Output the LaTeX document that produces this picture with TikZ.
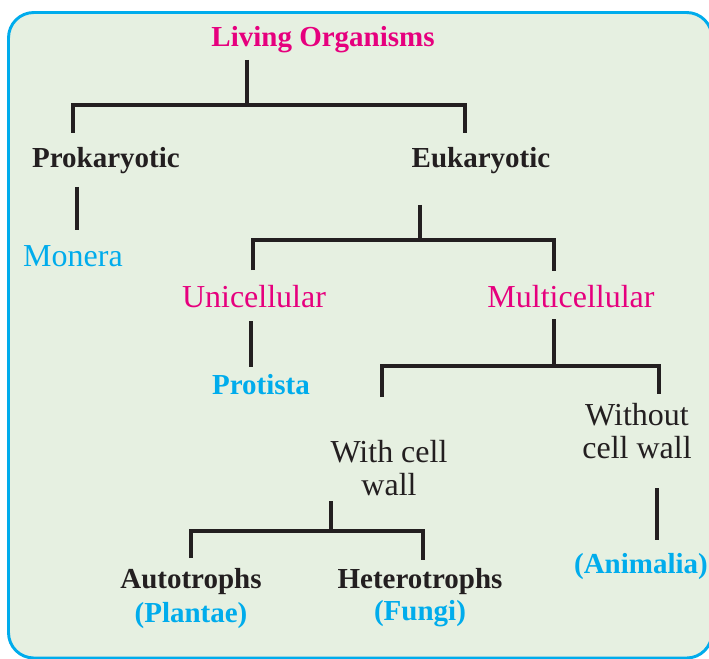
\documentclass[tikz,border=0pt]{standalone}
\usepackage{fontspec}
\setmainfont{Liberation Serif}
\usepackage{xcolor}
\usepackage{tikz}
\usetikzlibrary{positioning}

\definecolor{orgpink}{RGB}{230,0,126}
\definecolor{orgcyan}{RGB}{0,172,236}
\definecolor{orgink}{RGB}{35,31,32}
\definecolor{orgbg}{RGB}{230,240,225}

\begin{document}
\begin{tikzpicture}[x=0.75pt, y=-0.75pt,
        frame/.style={draw=orgcyan, fill=orgbg, line width=2.2pt, rounded corners=19pt},
        boldtxt/.style={font=\fontsize{21.75}{24}\selectfont\bfseries, inner sep=0pt, text height=0.68em, text depth=0.22em},
        regtxt/.style={font=\fontsize{24}{24.75}\selectfont, inner sep=0pt, text height=0.68em, text depth=0.22em},
        twoline/.style={font=\fontsize{24}{24.75}\selectfont, inner sep=0pt, align=center, text=orgink},
        link/.style={draw=orgink, line width=2.3pt}
    ]
        \useasboundingbox (0,0) rectangle (709,659);
        \path[frame] (8.5,12.5) rectangle (712,658);

        % Nodes
        \node[boldtxt, text=orgpink] (living) at (323,43) {Living Organisms};
        \node[boldtxt, text=orgink] (prok) at (106,164) {Prokaryotic};
        \node[boldtxt, text=orgink] (euk) at (481,164) {Eukaryotic};
        \node[regtxt, text=orgcyan] (monera) at (73,263) {Monera};
        \node[regtxt, text=orgpink] (uni) at (254,304) {Unicellular};
        \node[regtxt, text=orgpink] (multi) at (571,304) {Multicellular};
        \node[boldtxt, text=orgcyan] (protista) at (261,391) {Protista};
        \node[twoline] (withwall) at (389,468) {With cell\\wall};
        \node[twoline] (nowall) at (637,431) {Without\\cell wall};
        \node[boldtxt, text=orgink] (auto) at (191,585) {Autotrophs};
        \node[boldtxt, text=orgcyan] (plantae) at (191,619) {(Plantae)};
        \node[boldtxt, text=orgink] (hetero) at (420,585) {Heterotrophs};
        \node[boldtxt, text=orgcyan] (fungi) at (420,617) {(Fungi)};
        \node[boldtxt, text=orgcyan] (animalia) at (641,570) {(Animalia)};

        % Joints
        \coordinate (living-s) at (247,60);
        \coordinate (living-j) at (247,105);
        \coordinate (prok-n) at (73,133);
        \coordinate (euk-n) at (465,133);
        \coordinate (prok-s) at (77,187);
        \coordinate (monera-n) at (77,230);
        \coordinate (euk-s) at (420,205);
        \coordinate (euk-j) at (420,240);
        \coordinate (uni-n) at (253,270);
        \coordinate (multi-n) at (554,271);
        \coordinate (uni-s) at (251,321);
        \coordinate (protista-n) at (251,367);
        \coordinate (multi-s) at (554,319);
        \coordinate (multi-j) at (554,366);
        \coordinate (withwall-n) at (382,397);
        \coordinate (nowall-n) at (659,394);
        \coordinate (withwall-s) at (331,501);
        \coordinate (withwall-j) at (331,531);
        \coordinate (auto-n) at (191,558);
        \coordinate (hetero-n) at (423,560);
        \coordinate (nowall-s) at (657,488);
        \coordinate (animalia-n) at (657,540);

        % Connectors
        \draw[link] (living-s) -- (living-j);
        \draw[link] (prok-n) |- (living-j) -| (euk-n);
        \draw[link] (prok-s) -- (monera-n);

        \draw[link] (euk-s) -- (euk-j);
        \draw[link] (uni-n) |- (euk-j) -| (multi-n);
        \draw[link] (uni-s) -- (protista-n);

        \draw[link] (multi-s) -- (multi-j);
        \draw[link] (withwall-n) |- (multi-j) -| (nowall-n);

        \draw[link] (withwall-s) -- (withwall-j);
        \draw[link] (auto-n) |- (withwall-j) -| (hetero-n);
        \draw[link] (nowall-s) -- (animalia-n);

    \end{tikzpicture}
\end{document}
